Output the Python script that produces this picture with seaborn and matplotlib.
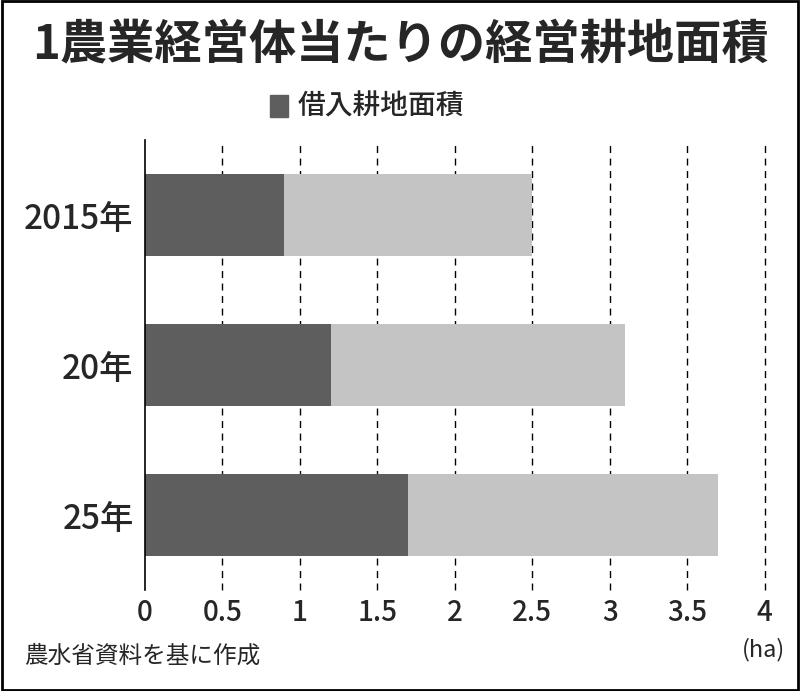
import matplotlib
matplotlib.use("Agg")
import matplotlib.pyplot as plt
import seaborn as sns
import pandas as pd

years = ["2015年", "20年", "25年"]
total_area = [2.5, 3.1, 3.7]
borrowed_area = [0.9, 1.2, 1.7]
xticks = [0, 0.5, 1, 1.5, 2, 2.5, 3, 3.5, 4]
xticklabels = ["0", "0.5", "1", "1.5", "2", "2.5", "3", "3.5", "4"]

sns.set_style("white")
plt.rcParams['font.family'] = ['Noto Sans CJK JP', 'DejaVu Sans']

df = pd.DataFrame({"year": years, "total": total_area, "borrowed": borrowed_area})

fig = plt.figure(figsize=(8, 6.91), dpi=100)
ax = fig.add_axes([0.181, 0.146, 0.775, 0.651])
sns.barplot(data=df, y="year", x="total", color="#c4c4c4", width=0.55, ax=ax, saturation=1, linewidth=0)
sns.barplot(data=df, y="year", x="borrowed", color="#5e5e5e", width=0.55, ax=ax, saturation=1, linewidth=0)
ax.set_xlim(0, 4)
ax.set_ylim(2.5, -0.5)
ax.set_xticks(xticks)
ax.set_xticklabels(xticklabels, fontsize=20, fontweight="medium")
ax.tick_params(axis="y", labelsize=24, length=0, pad=8)
for t in ax.get_yticklabels():
    t.set_fontweight("medium")
ax.tick_params(axis="x", length=0, pad=6)
ax.set_xlabel("")
ax.set_ylabel("")
for x in xticks[1:]:
    ax.axvline(x, color="black", linestyle=(0, (5, 4)), linewidth=1, zorder=0, clip_on=False)
ax.set_axisbelow(True)
for s in ["top", "right", "bottom"]:
    ax.spines[s].set_visible(False)
ax.spines["left"].set_color("black")
ax.spines["left"].set_linewidth(1.2)

fig.text(0.5, 0.935, "1農業経営体当たりの経営耕地面積", ha="center", va="center",
         fontsize=34, fontweight="bold")
fig.add_artist(plt.Rectangle((0.338, 0.83), 0.022, 0.032, color="#5e5e5e", transform=fig.transFigure))
fig.text(0.372, 0.846, "借入耕地面積", ha="left", va="center", fontsize=20, fontweight="medium")
fig.text(0.03, 0.05, "農水省資料を基に作成", ha="left", va="center", fontsize=17)
fig.text(0.955, 0.06, "(ha)", ha="center", va="center", fontsize=17)
fig.add_artist(plt.Rectangle((0.002, 0.002), 0.996, 0.996, fill=False, edgecolor="black",
                             linewidth=2, transform=fig.transFigure))
fig.savefig("out.png", dpi=100)
